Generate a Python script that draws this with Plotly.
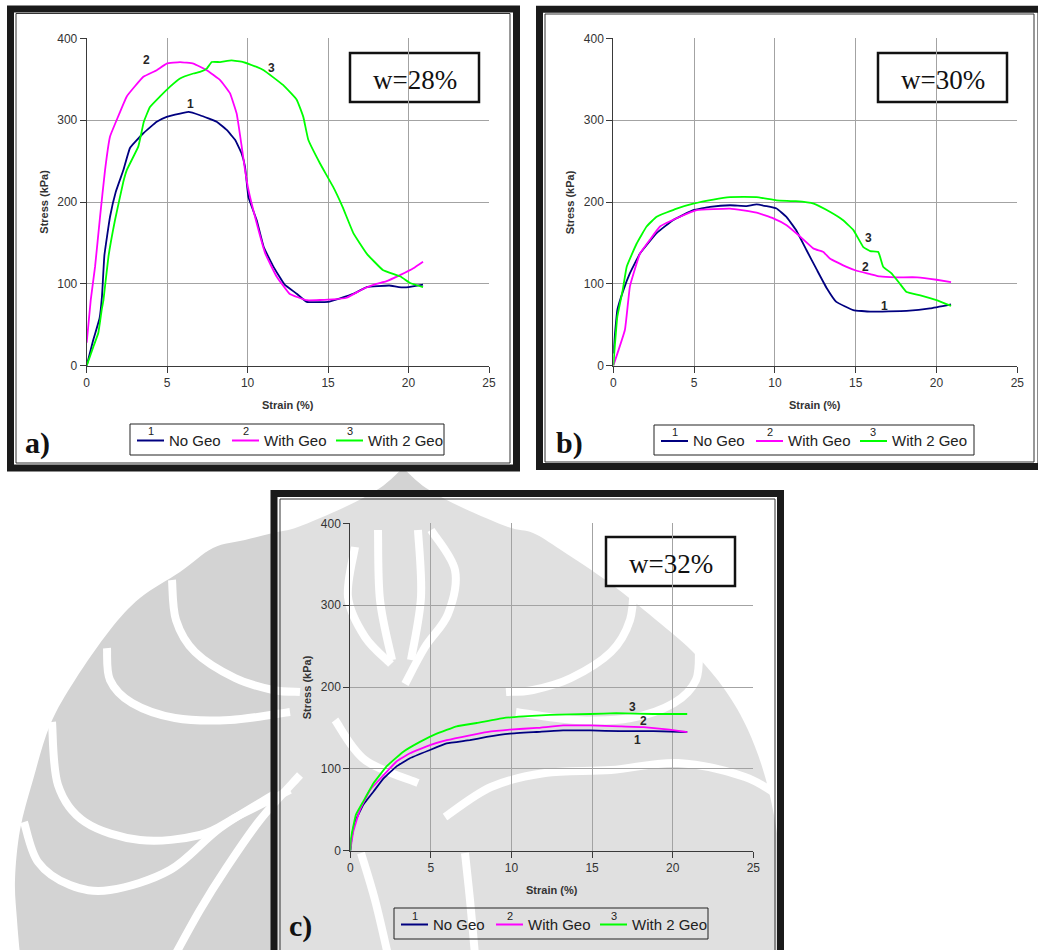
import plotly.graph_objects as go

W, H = 1038, 950

# ---------------- series names and colours ----------------
series_names = ["No Geo", "With Geo", "With 2 Geo"]
series_colors = ["#000080", "#FF00FF", "#00FF00"]
series_tags = ["1", "2", "3"]

# ---------------- w = 28 % ----------------
strain_28_nogeo = [0, 0.4, 0.8, 0.95, 1.1, 1.45, 1.8, 2.28, 2.69, 3.52, 4.35, 4.97, 5.8, 6.32,
                   7.04, 8.08, 8.7, 9.22, 9.63, 9.84, 10.05, 10.56, 11.0, 11.6, 12.3, 13.05,
                   13.67, 15.0, 15.7, 16.6, 17.4, 18.8, 19.4, 20.0, 20.9]
stress_28_nogeo = [0, 31, 58, 85, 135, 182, 212, 239, 266, 284, 298, 304, 308, 310,
                   306, 298, 288, 276, 259, 243, 206, 178, 145, 121, 99, 88,
                   78, 78, 82, 88, 96, 98, 96, 96, 99]
strain_28_geo = [0, 0.25, 0.52, 0.83, 1.14, 1.45, 1.86, 2.49, 3.52, 4.35, 4.97, 5.8, 6.63,
                 7.46, 8.29, 8.9, 9.32, 9.63, 9.84, 10.05, 10.46, 11.1, 11.8, 12.6, 13.67,
                 15.3, 16.15, 17.2, 18.0, 18.6, 19.5, 20.3, 20.9]
stress_28_geo = [28, 80, 121, 182, 239, 280, 300, 329, 353, 361, 369, 371, 369,
                 361, 349, 333, 308, 268, 239, 215, 182, 137, 109, 88, 80,
                 81, 83, 94, 100, 103, 111, 119, 127]
strain_28_geo2 = [0, 0.41, 0.72, 0.93, 1.04, 1.35, 1.76, 2.28, 2.49, 3.21, 3.55, 3.93, 4.56,
                  5.18, 5.8, 6.63, 7.04, 7.46, 7.77, 8.29, 9.0, 9.73, 10.56, 11.0, 12.2,
                  13.05, 13.46, 13.77, 14.5, 15.3, 15.9, 16.57, 17.4, 18.4, 19.5, 20.1, 20.9]
stress_28_geo2 = [0, 23, 40, 68, 80, 133, 178, 225, 239, 268, 298, 316, 329,
                  341, 351, 357, 359, 363, 371, 371, 373, 371, 365, 361, 343,
                  325, 304, 276, 247, 219, 194, 162, 137, 117, 109, 101, 96]

# ---------------- w = 30 % ----------------
strain_30_nogeo = [0, 0.25, 0.62, 1.03, 1.65, 2.68, 3.71, 4.95, 5.98, 7.22, 8.25, 8.87,
                   10.1, 10.7, 11.3, 11.96, 12.6, 13.2, 13.8, 14.85, 15.9, 18.15, 19.6, 20.9]
stress_30_nogeo = [15, 68, 92, 113, 137, 162, 178, 190, 194, 196, 195, 197,
                   192, 182, 166, 141, 117, 95, 78, 68, 66, 67, 70, 75]
strain_30_geo = [0, 0.72, 1.03, 1.65, 2.27, 2.89, 4.13, 5.16, 7.22, 8.87, 9.9, 10.7, 11.55,
                 12.4, 13.0, 13.4, 14.4, 15.06, 15.9, 16.5, 17.5, 18.8, 20.0, 20.9]
stress_30_geo = [0, 44, 97, 137, 154, 170, 182, 190, 192, 187, 180, 172, 158,
                 143, 139, 131, 121, 116, 112, 109, 108, 108, 105, 102]
strain_30_geo2 = [0, 0.25, 0.58, 0.83, 1.44, 2.06, 2.68, 3.92, 4.95, 6.19, 7.22, 8.87, 10.1,
                  11.3, 12.4, 13.4, 14.2, 14.85, 15.47, 15.9, 16.4, 16.7, 17.2, 17.7, 18.15,
                  19.0, 20.0, 20.9]
stress_30_geo2 = [0, 60, 92, 121, 149, 170, 182, 192, 198, 203, 206, 206, 202,
                  201, 198, 188, 178, 166, 145, 140, 139, 121, 113, 101, 90,
                  86, 80, 73]

# ---------------- w = 32 % ----------------
strain_32_nogeo = [0, 0.08, 0.29, 0.8, 1.43, 2.05, 2.87, 3.7, 4.94, 5.98, 7.42, 8.46, 9.9,
                   11.56, 13.2, 14.9, 16.7, 18.8, 20.9]
stress_32_nogeo = [0, 15, 35, 56, 72, 88, 103, 113, 123, 131, 135, 139, 143,
                   145, 147, 147, 146, 146, 145]
strain_32_geo = [0, 0.18, 0.6, 1.22, 2.05, 2.87, 3.7, 4.94, 5.98, 7.42, 8.46, 9.9, 11.56,
                 13.2, 14.9, 16.7, 18.2, 19.8, 20.9]
stress_32_geo = [0, 23, 50, 74, 92, 109, 119, 129, 135, 141, 145, 148, 150,
                 153, 153, 152, 151, 148, 145]
strain_32_geo2 = [0, 0.04, 0.35, 0.8, 1.43, 2.25, 3.29, 4.32, 5.36, 6.6, 7.84, 9.49, 10.73,
                  12.39, 14.87, 16.5, 18.8, 20.9]
stress_32_geo2 = [0, 15, 44, 60, 82, 103, 121, 133, 143, 152, 156, 162, 164,
                  166, 167, 168, 167, 167]

# curve tag positions (strain, stress) for labels 1, 2, 3
tags_28 = [(6.42, 320), (3.73, 374), (11.5, 364)]
tags_30 = [(16.8, 73), (15.6, 121), (15.8, 156)]
tags_32 = [(17.8, 135), (18.2, 158), (17.5, 175)]

moisture_labels = ["w=28%", "w=30%", "w=32%"]
panel_letters = ["a)", "b)", "c)"]

x_ticks = [0, 5, 10, 15, 20, 25]
y_ticks = [0, 100, 200, 300, 400]

panel_series = [
    [(strain_28_nogeo, stress_28_nogeo), (strain_28_geo, stress_28_geo), (strain_28_geo2, stress_28_geo2)],
    [(strain_30_nogeo, stress_30_nogeo), (strain_30_geo, stress_30_geo), (strain_30_geo2, stress_30_geo2)],
    [(strain_32_nogeo, stress_32_nogeo), (strain_32_geo, stress_32_geo), (strain_32_geo2, stress_32_geo2)],
]
panel_tags = [tags_28, tags_30, tags_32]

# ---------------- layout geometry (pixels from top-left) ----------------
layout_px = [
    dict(plot=(86.7, 38.3, 489.0, 365.7), frame=(10.5, 9.0, 516.5, 468.0), inner=(16, 13.5, 510, 463),
         legend=(130, 424, 444, 455), box=(350, 53, 479, 102), letter=(37, 443), leg_fill="white"),
    dict(plot=(613.3, 38.3, 1017.3, 365.7), frame=(539.5, 9.3, 1041.0, 466.5), inner=(545, 14, 1034, 462),
         legend=(654, 425, 974, 455), box=(878, 53, 1007, 102), letter=(569, 443), leg_fill="white"),
    dict(plot=(350.3, 523.3, 753.3, 850.7), frame=(274.0, 493.5, 780.5, 965.0), inner=(280, 499, 775, 960),
         legend=(394, 908, 708, 939), box=(606, 537, 735, 586), letter=(300, 926), leg_fill="rgba(0,0,0,0)"),
]


def fx(x):
    return x / W


def fy(y):
    return 1 - y / H


def smooth_path(pts, start="M"):
    """Catmull-Rom spline through pixel points, as an SVG path fragment in paper units."""
    n = len(pts)
    P = [(fx(x), fy(y)) for x, y in pts]
    d = "%s %.5f,%.5f" % (start, P[0][0], P[0][1])
    for i in range(n - 1):
        p0 = P[i - 1] if i > 0 else P[i]
        p1 = P[i]
        p2 = P[i + 1]
        p3 = P[i + 2] if i + 2 < n else p2
        c1 = (p1[0] + (p2[0] - p0[0]) / 6, p1[1] + (p2[1] - p0[1]) / 6)
        c2 = (p2[0] - (p3[0] - p1[0]) / 6, p2[1] - (p3[1] - p1[1]) / 6)
        d += " C %.5f,%.5f %.5f,%.5f %.5f,%.5f" % (c1[0], c1[1], c2[0], c2[1], p2[0], p2[1])
    return d


def paper_text(x, y, text, font, **kw):
    """Text placed at a pixel position, centred unless told otherwise."""
    d = dict(x=fx(x), y=fy(y), xref="paper", yref="paper", text=text, showarrow=False,
             xanchor="center", yanchor="middle", font=font)
    d.update(kw)
    return d


shapes = []
annotations = []

# ---------------- background emblem (light grey) ----------------
emblem_grey = "#d3d3d3"
emblem_left = [(403, 468), (380, 488), (345, 507), (298, 527), (273, 533), (245, 540), (213, 548),
               (180, 572), (140, 598), (110, 630), (75, 680), (50, 725), (33, 780), (20, 830),
               (15, 880), (17, 920), (20, 955)]
emblem_right = [(780, 955), (782, 900), (778, 840), (766, 780), (748, 730), (725, 690), (695, 654),
                (661, 624), (611, 584), (561, 550), (533, 533), (508, 527), (461, 507),
                (426, 488), (403, 468)]
emblem_path = (smooth_path(emblem_left) + " L %.5f,%.5f L %.5f,%.5f" % (fx(20), fy(970), fx(780), fy(970))
               + smooth_path(emblem_right, start="L") + " Z")
shapes.append(dict(type="path", xref="paper", yref="paper", layer="below",
                   path=emblem_path, fillcolor=emblem_grey, line=dict(width=0)))

emblem_strokes = [
    [(172, 580), (176, 620), (195, 652), (235, 678), (273, 690), (300, 692)],
    [(107, 648), (110, 680), (132, 703), (175, 718), (230, 720), (290, 712)],
    [(52, 722), (58, 785), (85, 822), (140, 840), (200, 835), (240, 815), (290, 790)],
    [(24, 822), (38, 862), (70, 885), (110, 890), (170, 870), (220, 828), (273, 795)],
    [(300, 775), (260, 820), (225, 870), (200, 910), (175, 955)],
    [(378, 530), (380, 600), (392, 660)],
    [(418, 530), (421, 597), (411, 660)],
    [(355, 547), (348, 597), (365, 637), (391, 664)],
    [(431, 530), (455, 570), (448, 614), (425, 647), (405, 684)],
    [(445, 817), (491, 787), (545, 773), (611, 770), (678, 763), (745, 777), (785, 800)],
    [(335, 720), (365, 760), (418, 783)],
    [(361, 853), (375, 900), (388, 955)],
    [(465, 853), (470, 900), (475, 955)],
    [(634, 580), (630, 620), (611, 652), (571, 678), (533, 690), (506, 692)],
    [(699, 648), (696, 680), (674, 703), (631, 718), (576, 720), (516, 712)],
]
for s in emblem_strokes:
    shapes.append(dict(type="path", xref="paper", yref="paper", layer="below",
                       path=smooth_path(s), line=dict(color="white", width=8)))

# ---------------- figure ----------------
fig = go.Figure()
sans = "Liberation Sans, Arial, sans-serif"
serif = "Liberation Serif, Times New Roman, serif"
axis_font = dict(family=sans, size=12, color="#333333")
layout_axes = {}

for p, geo in enumerate(layout_px):
    xname = "x" if p == 0 else "x%d" % (p + 1)
    yname = "y" if p == 0 else "y%d" % (p + 1)
    x0, y0, x1, y1 = geo["plot"]

    # panel background and frame
    fx0, fy0, fx1, fy1 = geo["frame"]
    shapes.append(dict(type="rect", xref="paper", yref="paper", layer="below",
                       x0=fx(fx0), x1=fx(fx1), y0=fy(fy1), y1=fy(fy0),
                       fillcolor="white" if p < 2 else "rgba(255,255,255,0.3)", line=dict(width=0)))
    shapes.append(dict(type="rect", xref="paper", yref="paper", layer="below",
                       x0=fx(fx0), x1=fx(fx1), y0=fy(fy1), y1=fy(fy0),
                       line=dict(color="#1a1a1a", width=7)))
    ix0, iy0, ix1, iy1 = geo["inner"]
    shapes.append(dict(type="rect", xref="paper", yref="paper", layer="below",
                       x0=fx(ix0), x1=fx(ix1), y0=fy(iy1), y1=fy(iy0),
                       line=dict(color="#333333", width=1)))

    # traces
    for k, (xs, ys) in enumerate(panel_series[p]):
        fig.add_trace(go.Scatter(x=xs, y=ys, mode="lines", name=series_names[k],
                                 line=dict(color=series_colors[k], width=1.8, shape="spline", smoothing=0.3),
                                 xaxis=xname, yaxis=yname, showlegend=False))
    # curve tags
    for k, (tx, ty) in enumerate(panel_tags[p]):
        annotations.append(dict(x=tx, y=ty, xref=xname, yref=yname, text="<b>%s</b>" % series_tags[k],
                                showarrow=False, xanchor="center", yanchor="middle",
                                font=dict(family=sans, size=12, color="#262626")))

    common = dict(showgrid=True, gridcolor="#a3a3a3", gridwidth=1, zeroline=False,
                  showline=True, linecolor="#3a3a3a", linewidth=1,
                  ticks="outside", ticklen=6, tickcolor="#3a3a3a", tickfont=axis_font)
    layout_axes["xaxis" if p == 0 else "xaxis%d" % (p + 1)] = dict(
        domain=[fx(x0), fx(x1)], range=[0, 25], tickvals=x_ticks, anchor=yname, **common)
    layout_axes["yaxis" if p == 0 else "yaxis%d" % (p + 1)] = dict(
        domain=[fy(y1), fy(y0)], range=[0, 400], tickvals=y_ticks, anchor=xname, **common)

    # axis titles
    annotations.append(paper_text((x0 + x1) / 2, y1 + 39, "<b>Strain (%)</b>",
                                  dict(family=sans, size=11, color="#333333")))
    annotations.append(paper_text(x0 - 43, (y0 + y1) / 2, "<b>Stress (kPa)</b>",
                                  dict(family=sans, size=11, color="#333333"), textangle=-90))

    # moisture content box
    bx0, by0, bx1, by1 = geo["box"]
    shapes.append(dict(type="rect", xref="paper", yref="paper", layer="below",
                       x0=fx(bx0), x1=fx(bx1), y0=fy(by1), y1=fy(by0),
                       fillcolor="white", line=dict(color="#111111", width=2.5)))
    annotations.append(paper_text((bx0 + bx1) / 2, (by0 + by1) / 2 + 2, moisture_labels[p],
                                  dict(family=serif, size=27, color="#111111")))

    # panel letter
    lx, ly = geo["letter"]
    annotations.append(paper_text(lx, ly, "<b>%s</b>" % panel_letters[p],
                                  dict(family=serif, size=30, color="#111111")))

    # legend box
    gx0, gy0, gx1, gy1 = geo["legend"]
    shapes.append(dict(type="rect", xref="paper", yref="paper", layer="below",
                       x0=fx(gx0), x1=fx(gx1), y0=fy(gy1), y1=fy(gy0),
                       fillcolor=geo["leg_fill"], line=dict(color="#222222", width=1)))
    ymid = (gy0 + gy1) / 2 + 1
    for k, off in enumerate([7, 102, 206]):
        sx0, sx1 = gx0 + off, gx0 + off + 27
        shapes.append(dict(type="line", xref="paper", yref="paper", layer="below",
                           x0=fx(sx0), x1=fx(sx1), y0=fy(ymid), y1=fy(ymid),
                           line=dict(color=series_colors[k], width=2)))
        annotations.append(paper_text((sx0 + sx1) / 2, ymid - 9, series_tags[k],
                                      dict(family=sans, size=11, color="#222222")))
        annotations.append(paper_text(sx1 + 3, ymid, series_names[k],
                                      dict(family=sans, size=15, color="#222222"), xanchor="left"))

fig.update_layout(width=W, height=H, margin=dict(l=0, r=0, t=0, b=0, pad=0, autoexpand=False),
                  paper_bgcolor="white", plot_bgcolor="rgba(0,0,0,0)",
                  showlegend=False, shapes=shapes, annotations=annotations, **layout_axes)

fig.write_html("out.html")
